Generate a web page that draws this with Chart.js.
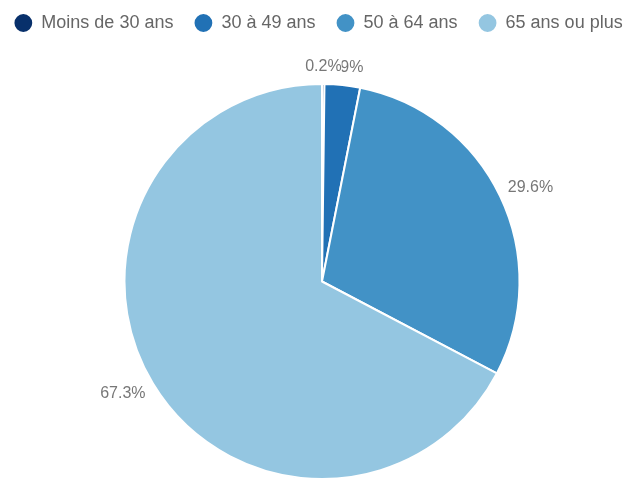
<!DOCTYPE html>
<html>
<head>
<meta charset="utf-8">
<script src="https://cdn.jsdelivr.net/npm/chart.js@4"></script>
<style>
  html, body { margin: 0; padding: 0; background: #fff; }
  #wrap { width: 631px; height: 480px; }
</style>
</head>
<body>
<div id="wrap"><canvas id="myPieChart"></canvas></div>
<script>
// data (percent of total)
var ageGroups = ["Moins de 30 ans", "30 à 49 ans", "50 à 64 ans", "65 ans ou plus"];
var shares = [0.2, 2.9, 29.6, 67.3];
var sliceColors = ["#08306b", "#2171b5", "#4292c6", "#94c6e1"];

Chart.defaults.font.family = "'Liberation Sans', Arial, sans-serif";
Chart.defaults.color = "#666";

// move pie down / right to leave room for the outside labels
var pieShift = {
    id: "pieShift",
    afterLayout: function(chart) {
        var a = chart.chartArea;
        a.top += 41;
        a.left += 13;
        a.width = a.right - a.left;
        a.height = a.bottom - a.top;
    }
};

// labels outside the slices (anchor end / align end like datalabels)
var outLabels = {
    id: "outLabels",
    afterDatasetsDraw: function(chart) {
        var ctx = chart.ctx;
        var meta = chart.getDatasetMeta(0);
        var size = 16, pad = 4, offset = 4;
        ctx.save();
        ctx.font = size + "px 'Liberation Sans', Arial, sans-serif";
        ctx.textAlign = "center";
        ctx.textBaseline = "middle";
        // last first, so the small first label ends up on top
        for (var i = meta.data.length - 1; i >= 0; i--) {
            var arc = meta.data[i];
            var p = arc.getProps(["x", "y", "startAngle", "endAngle", "outerRadius"], true);
            var mid = (p.startAngle + p.endAngle) / 2;
            var vx = Math.cos(mid), vy = Math.sin(mid);
            var px = p.x + vx * p.outerRadius, py = p.y + vy * p.outerRadius;
            var txt = shares[i].toFixed(1) + "%";
            var tw = ctx.measureText(txt).width;
            var w = tw + pad * 2;
            var h = size * 1.2 + pad * 2;
            var vs = 1 / Math.max(Math.abs(vx), Math.abs(vy));
            var x = px + (w / 2) * vx * vs + offset * vx;
            var y = py + (h / 2) * vy * vs + offset * vy;
            ctx.fillStyle = "#fff";
            ctx.fillRect(x - tw / 2, y - size * 0.6, tw, size * 1.2);
            ctx.fillStyle = "#777";
            ctx.fillText(txt, x, y);
        }
        ctx.restore();
    }
};

var ctx = document.getElementById("myPieChart").getContext("2d");
var myPieChart = new Chart(ctx, {
    type: "pie",
    data: {
        labels: ageGroups,
        datasets: [{
            data: shares,
            backgroundColor: sliceColors,
            borderColor: "#fff",
            borderWidth: 2
        }]
    },
    options: {
        responsive: true,
        maintainAspectRatio: false,
        animation: false,
        layout: { padding: { top: -7, left: -10, right: -16, bottom: 0 } },
        plugins: {
            legend: {
                position: "top",
                labels: {
                    usePointStyle: true,
                    pointStyle: "circle",
                    boxWidth: 18,
                    boxHeight: 14,
                    padding: 21,
                    color: "#666",
                    font: { size: 18 }
                }
            },
            tooltip: { enabled: false }
        }
    },
    plugins: [pieShift, outLabels]
});
</script>
</body>
</html>
